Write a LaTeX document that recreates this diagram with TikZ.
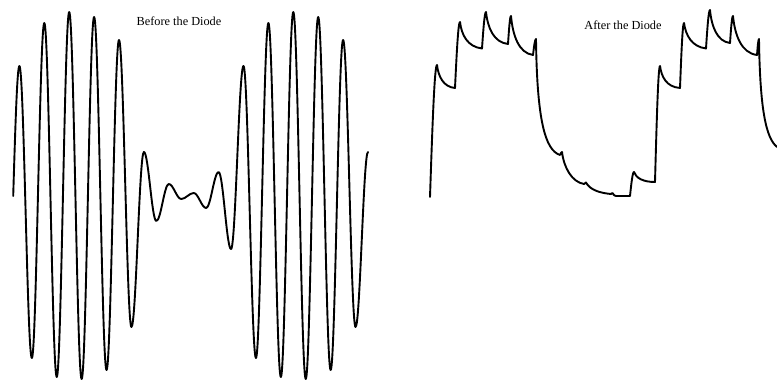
\documentclass[tikz,border=0pt]{standalone}
\usepackage{fontspec}
\setmainfont{Liberation Serif}
\begin{document}
\begin{tikzpicture}[x=1pt,y=-1pt,
  wave/.style={line width=1.9pt,line join=round,line cap=round},
  label/.style={font=\fontsize{12.3}{14}\selectfont,anchor=base,inner sep=0pt}]
\useasboundingbox (0,0) rectangle (777,380);
% ---- before the diode: AM signal ----
\draw[wave] (13.2,196)
  \foreach \k/\ya/\yb/\yn in {0/66/358/23,1/23/377/12,2/12/379/17,3/17/370/40,4/40/327/152,
     5/152/221/184,6/184/199/193,7/193/208/172,8/172/249/66,9/66/358/23,10/23/377/12,
     11/12/379/17,12/17/370/40,13/40/327/152}{
    sin ({19.4+24.9*\k},\ya) cos ({25.625+24.9*\k},{(\ya+\yb)/2})
    sin ({31.85+24.9*\k},\yb) cos ({38.075+24.9*\k},{(\yb+\yn)/2})}
  sin (368,152);
% ---- after the diode ----
\draw[wave] (430,197) sin (437,65)
  .. controls (438.4,76.5) and (443.3,86.9) .. (455,88) sin (460,22)
  .. controls (461.6,35) and (467.4,46.7) .. (482,48.5) sin (486,12)
  .. controls (487.8,28) and (493.7,42.4) .. (508,44) sin (511,16)
  .. controls (512.8,35.5) and (518.7,53) .. (533,55) sin (536,39)
  .. controls (537,120) and (545,150) .. (560,155) sin (562,152)
  .. controls (564,168) and (572,182) .. (584,184) sin (586,182.5)
  .. controls (590,190) and (600,193) .. (611,194) sin (612.5,193)
  .. controls (613.5,195) and (614.5,196) .. (616,196) -- (630,196) sin (634,172)
  .. controls (636,178) and (643,182) .. (655,182) sin (660,66)
  .. controls (661.6,77) and (666.3,86.9) .. (680,88) sin (684,23)
  .. controls (685.8,35.5) and (691.7,46.6) .. (706,48.5) sin (710,10)
  .. controls (711.6,26.5) and (717,41.4) .. (730,43) sin (733,16)
  .. controls (734.9,35.5) and (741.4,53) .. (757,55) sin (759,39)
  .. controls (760,110) and (766,138) .. (777,147);
\node[label] (before) at (179,25.5) {Before the Diode};
\node[label] (after) at (623,29) {After the Diode};
\end{tikzpicture}
\end{document}
